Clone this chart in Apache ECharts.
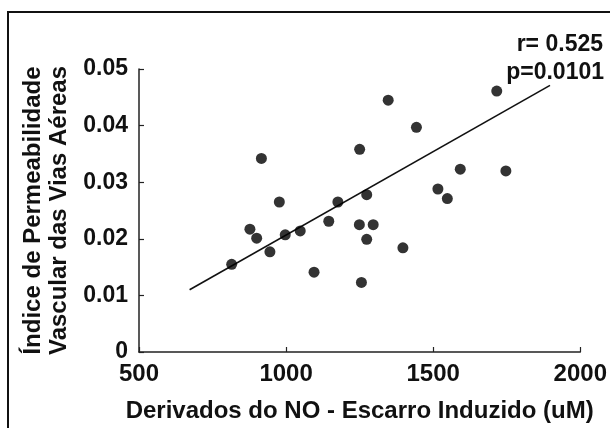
<!DOCTYPE html>
<html>
<head>
<meta charset="utf-8">
<script src="https://cdn.jsdelivr.net/npm/echarts@6/dist/echarts.min.js"></script>
<style>
  html, body { margin: 0; padding: 0; background: #fff; }
  #chart { width: 610px; height: 428px; }
</style>
</head>
<body>
<div id="chart"></div>
<script>
// NO derivatives in induced sputum (uM) vs airway vascular permeability index
const noValues = [
  1347, 916, 1250, 977, 1176, 1274, 877, 900, 997, 1048, 1145, 1249, 1296,
  1274, 945, 815, 1095, 1256, 1397, 1716, 1443, 1592, 1747, 1516, 1548,
];
const permeability = [
  0.0445, 0.0342, 0.0358, 0.0265, 0.0265, 0.0278, 0.0217, 0.0201, 0.0207, 0.0214, 0.0231, 0.0225, 0.0225,
  0.0199, 0.0177, 0.0155, 0.0141, 0.0123, 0.0184, 0.0461, 0.0397, 0.0323, 0.0320, 0.0288, 0.0271,
];
// regression line ends
const fitX = [672, 1897];
const fitY = [0.0110, 0.0471];
const statsText = ["r= 0.525", "p=0.0101"];

const font = "'Liberation Sans', Arial, sans-serif";
const ink = "#111";

const chart = echarts.init(document.getElementById("chart"), null, { renderer: "canvas" });

chart.setOption({
  animation: false,
  backgroundColor: "#fff",
  textStyle: { fontFamily: font, color: ink },
  grid: { left: 139, right: 28, top: 69, bottom: 72 },
  xAxis: {
    type: "value",
    min: 500,
    max: 2000,
    interval: 500,
    name: "Derivados do NO - Escarro Induzido (uM)",
    nameLocation: "middle",
    nameGap: 47,
    nameTextStyle: { fontFamily: font, fontWeight: "bold", fontSize: 24, color: ink },
    axisLine: { lineStyle: { color: "#222", width: 1.5 } },
    axisTick: { inside: true, length: 5, lineStyle: { color: "#222", width: 1.2 } },
    axisLabel: {
      fontFamily: font, fontWeight: "bold", fontSize: 24, color: ink, margin: 10,
      formatter: (v) => String(v),
    },
    splitLine: { show: false },
  },
  yAxis: {
    type: "value",
    min: 0,
    max: 0.05,
    interval: 0.01,
    name: "Índice de Permeabilidade\nVascular das Vias Aéreas",
    nameLocation: "middle",
    nameRotate: 90,
    nameGap: 64,
    nameTextStyle: { fontFamily: font, fontWeight: "bold", fontSize: 24, color: ink, lineHeight: 26 },
    axisLine: { show: true, lineStyle: { color: "#222", width: 1.5 } },
    axisTick: { show: true, inside: true, length: 5, lineStyle: { color: "#222", width: 1.2 } },
    axisLabel: {
      fontFamily: font, fontWeight: "bold", fontSize: 23, color: ink, margin: 11,
      formatter: (v) => (v === 0 ? "0" : v.toFixed(2)),
    },
    splitLine: { show: false },
  },
  graphic: [
    {
      type: "rect",
      shape: { x: 8, y: 12, width: 640, height: 460 },
      style: { fill: null, stroke: "#111", lineWidth: 2 },
      silent: true,
    },
    {
      type: "text",
      right: 7,
      top: 33,
      style: { text: statsText[0], font: "bold 23px " + font, fill: ink },
    },
    {
      type: "text",
      right: 6,
      top: 61,
      style: { text: statsText[1], font: "bold 23px " + font, fill: ink },
    },
  ],
  series: [
    {
      type: "line",
      data: fitX.map((x, i) => [x, fitY[i]]),
      symbol: "none",
      lineStyle: { color: "#111", width: 1.6 },
      silent: true,
      z: 1,
    },
    {
      type: "scatter",
      data: noValues.map((x, i) => [x, permeability[i]]),
      symbolSize: 11,
      itemStyle: { color: "#000" },
      z: 2,
    },
  ],
});
</script>
</body>
</html>
